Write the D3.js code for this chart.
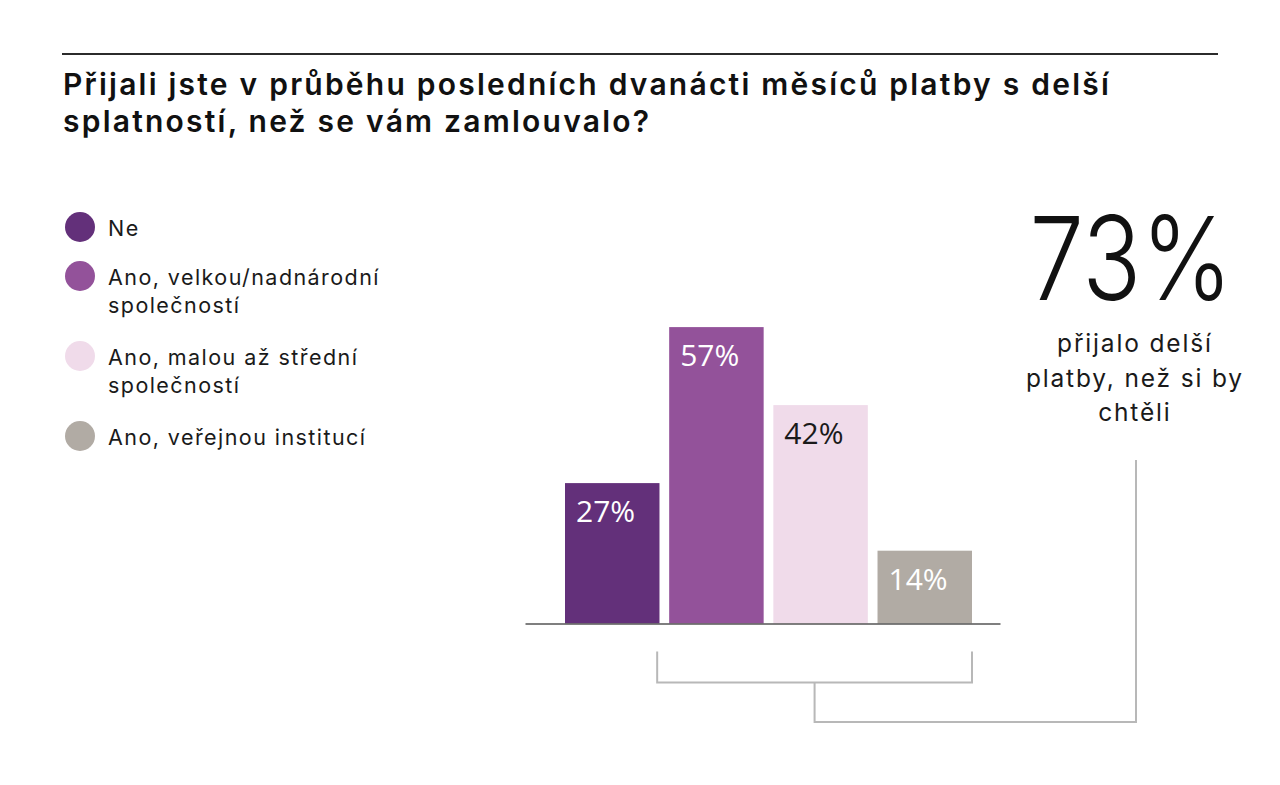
<!DOCTYPE html>
<html>
<head>
<meta charset="utf-8">
<script src="https://cdn.jsdelivr.net/npm/d3@7"></script>
<style>
  html, body { margin: 0; padding: 0; background: #fff; }
  svg { display: block; }
</style>
</head>
<body>
<svg id="chart" width="1280" height="785"></svg>
<script>
// ---- data ----
const titleLines = ["Přijali jste v průběhu posledních dvanácti měsíců platby s delší", "splatností, než se vám zamlouvalo?"];
const categories = ["Ne", "Ano, velkou/nadnárodní společností", "Ano, malou až střední společností", "Ano, veřejnou institucí"];
const legendLines = [["Ne"], ["Ano, velkou/nadnárodní", "společností"], ["Ano, malou až střední", "společností"], ["Ano, veřejnou institucí"]];
const values = [27, 57, 42, 14];
const colors = ["#63307a", "#93529a", "#f0dbea", "#b1aba4"];
const labelColors = ["#ffffff", "#ffffff", "#1a1a1a", "#ffffff"];
const highlightValue = 73;
const highlightLines = ["přijalo delší", "platby, než si by", "chtěli"];
const bracketGroup = [1, 2, 3];

// ---- helpers ----
const svg = d3.select("#chart");
// letter-spacing so that a reference string spans the given width at a given size
function fitSpacing(text, family, weight, size, target) {
  const t = svg.append("text").attr("font-family", family).attr("font-weight", weight)
    .attr("font-size", size).text(text);
  const w = t.node().getComputedTextLength();
  t.remove();
  return Math.max(0, (target - w) / text.length);
}
const font = "Inter, 'Open Sans', sans-serif";

// top rule
svg.append("line").attr("x1", 62).attr("x2", 1218).attr("y1", 54).attr("y2", 54)
  .attr("stroke", "#2b2b2b").attr("stroke-width", 2);

// title
const titleSize = 30;
const titleLS = fitSpacing(titleLines[0], font, 600, titleSize, 1048);
const title = svg.append("text").attr("font-family", font).attr("font-weight", 600)
  .attr("font-size", titleSize).attr("letter-spacing", titleLS).attr("fill", "#111");
titleLines.forEach((t, i) => {
  title.append("tspan").attr("x", 63).attr("y", 95 + i * 37).text(t);
});

// legend
const legSize = 21.5;
const legLS = fitSpacing(legendLines[1][0], font, 400, legSize, 272);
const legendY = [236, 285, 365, 445];
const leg = svg.append("g");
legendLines.forEach((lines, i) => {
  leg.append("circle").attr("cx", 80).attr("cy", legendY[i] - 9).attr("r", 15).attr("fill", colors[i]);
  const t = leg.append("text").attr("font-family", font).attr("font-size", legSize)
    .attr("letter-spacing", legLS).attr("fill", "#1a1a1a");
  lines.forEach((l, j) => {
    t.append("tspan").attr("x", 108).attr("y", legendY[i] + j * 28).text(l);
  });
});

// scales
const x = d3.scaleBand().domain(categories).range([565, 972]).paddingInner(0.093).paddingOuter(0);
const y = d3.scaleLinear().domain([0, 100]).range([623.5, 103.5]);

// bars
svg.append("g").selectAll("rect").data(values).join("rect")
  .attr("x", (d, i) => x(categories[i]))
  .attr("y", d => y(d))
  .attr("width", x.bandwidth())
  .attr("height", d => y(0) - y(d))
  .attr("fill", (d, i) => colors[i]);

// bar labels
svg.append("g").selectAll("text").data(values).join("text")
  .attr("x", (d, i) => x(categories[i]) + 11)
  .attr("y", d => y(d) + 39)
  .attr("font-family", "'Open Sans', sans-serif")
  .attr("font-size", 30)
  .attr("fill", (d, i) => labelColors[i])
  .text(d => d + "%");

// baseline axis
const axis = svg.append("g").attr("transform", `translate(0,${y(0)})`)
  .call(d3.axisBottom(d3.scaleLinear().domain([0, 1]).range([525, 1000])).ticks(0).tickSize(0).tickFormat(""));
axis.select(".domain").attr("stroke", "#555").attr("stroke-width", 1.5);

// bracket
const bx0 = x(categories[bracketGroup[0]]) - 12;
const bx1 = x(categories[bracketGroup[bracketGroup.length - 1]]) + x.bandwidth();
const bTop = y(0) + 28, bBot = y(0) + 59, stemBot = y(0) + 98.5;
const bmid = (bx0 + bx1) / 2;
const rightX = 1136, rightTop = 460;
const path = d3.path();
path.moveTo(bx0, bTop); path.lineTo(bx0, bBot); path.lineTo(bx1, bBot); path.lineTo(bx1, bTop);
path.moveTo(bmid, bBot); path.lineTo(bmid, stemBot); path.lineTo(rightX, stemBot); path.lineTo(rightX, rightTop);
svg.append("path").attr("d", path.toString()).attr("fill", "none").attr("stroke", "#b8b8b8").attr("stroke-width", 2);

// highlight
svg.append("text").attr("x", 1131).attr("y", 300).attr("text-anchor", "middle")
  .attr("font-family", font).attr("font-weight", 300).attr("font-size", 116)
  .attr("fill", "#111")
  .attr("textLength", 203).attr("lengthAdjust", "spacingAndGlyphs")
  .text(highlightValue + "%");

const hSize = 24.5;
const hLS = fitSpacing(highlightLines[1], font, 400, hSize, 218);
const ht = svg.append("text").attr("text-anchor", "middle")
  .attr("font-family", font).attr("font-size", hSize).attr("letter-spacing", hLS).attr("fill", "#1a1a1a");
highlightLines.forEach((l, i) => {
  ht.append("tspan").attr("x", 1134 + hLS / 2).attr("y", 352 + i * 34.5).text(l);
});
</script>
</body>
</html>
